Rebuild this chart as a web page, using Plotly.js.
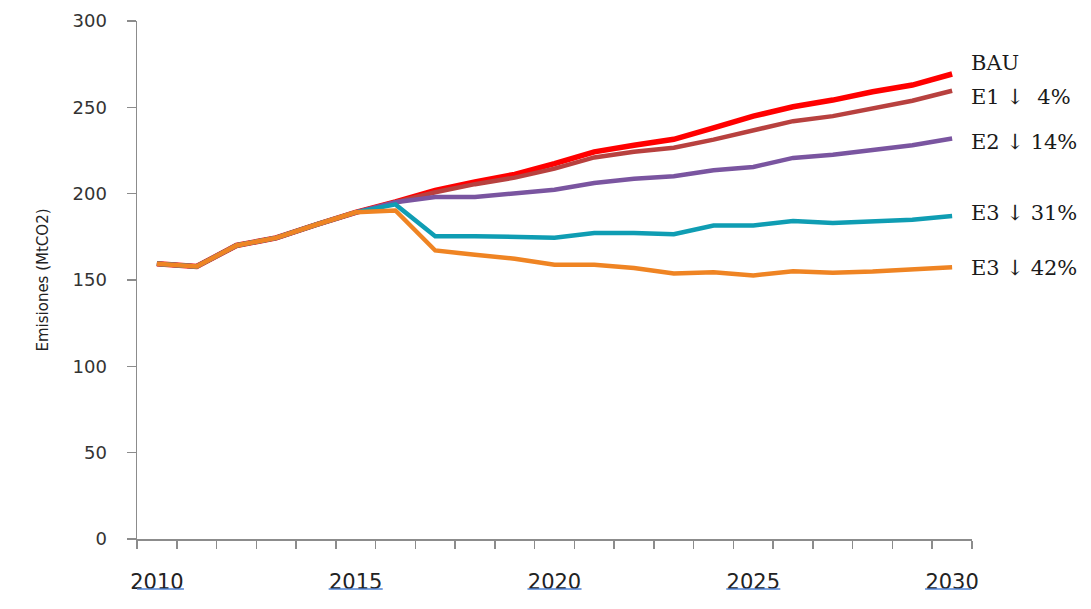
<!DOCTYPE html>
<html>
<head>
<meta charset="utf-8">
<script src="https://cdn.plot.ly/plotly-3.0.1.min.js"></script>
<style>html,body{margin:0;padding:0;background:#fff;}</style>
</head>
<body>
<div id="chart" style="width:1091px;height:609px;"></div>
<script>
const years = [2010,2011,2012,2013,2014,2015,2016,2017,2018,2019,2020,2021,2022,2023,2024,2025,2026,2027,2028,2029,2030];
const common = [159.4,157.8,170.0,174.4,182.0,189.2];
const bau = common.concat([195.2,201.9,206.8,211.2,217.4,224.2,228.0,231.5,238.1,244.9,250.3,254.2,259.0,262.9,269.3]);
const e1  = common.concat([195.0,200.8,205.5,209.3,214.5,221.0,224.3,226.6,231.3,236.4,242.0,244.9,249.3,253.8,259.6]);
const e2  = common.concat([195.0,198.1,198.1,200.4,202.3,206.2,208.7,210.1,213.5,215.5,220.7,222.6,225.5,228.0,231.9]);
const e3a = common.concat([193.8,175.4,175.4,175.2,174.5,177.2,177.2,176.5,181.6,181.6,184.1,183.0,184.0,184.9,187.0]);
const e3b = common.concat([190.3,167.1,164.6,162.3,158.8,158.8,156.9,153.8,154.5,152.6,155.1,154.2,154.9,155.9,157.4]);
const seriesNames = ['BAU','E1','E2','E3 31%','E3 42%'];
const tickYears = [2010,2015,2020,2025,2030];
const endLabels = ['BAU','E1 \u2193\u00a0\u00a04%','E2 \u2193 14%','E3 \u2193 31%','E3 \u2193 42%'];

const colors = ['#ff0000','#b8413f','#7a55a0','#0f9db3','#ef8423'];
const widths = [5.5,4.5,4.5,4.5,4.5];
const data = [bau,e1,e2,e3a,e3b].map((ys,i)=>({
  type:'scatter', mode:'lines', x: years, y: ys, name: seriesNames[i],
  line:{color: colors[i], width: widths[i]}, hoverinfo:'skip'
}));

const plotBottom = 539, plotTop = 21, plotH = plotBottom - plotTop;
const labelPix = [63.3, 96.7, 141.7, 213.3, 268.3];
const annotations = endLabels.map((t,i)=>({
  xref:'paper', yref:'paper', x:1, xshift:-3, xanchor:'left',
  y:(plotBottom - labelPix[i])/plotH, yanchor:'middle',
  text:t, showarrow:false,
  font:{family:'DejaVu Serif, serif', size:21, color:'#1a1a1a'}
}));
const shapes = tickYears.map(yr=>({
  type:'line', xref:'x', yref:'paper', x0:yr-0.68, x1:yr+0.68,
  y0:(plotBottom-589)/plotH, y1:(plotBottom-589)/plotH,
  line:{color:'#4f82d2', width:1.5}
}));

const layout = {
  width:1091, height:609,
  margin:{l:137, r:119, t:21, b:70},
  paper_bgcolor:'#fff', plot_bgcolor:'#fff',
  showlegend:false,
  xaxis:{
    range:[2009.5,2030.5], tickmode:'array', tickvals:tickYears, ticktext:tickYears.map(String),
    ticks:'outside', ticklen:23, tickcolor:'rgba(0,0,0,0)',
    showline:true, linecolor:'#8c8c8c', linewidth:1.5,
    showgrid:false, zeroline:false,
    minor:{tickmode:'linear', tick0:2009.5, dtick:1, ticks:'outside', ticklen:8, tickcolor:'#8c8c8c', tickwidth:1.5, showgrid:false},
    tickfont:{family:'DejaVu Sans, sans-serif', size:21, color:'#222'}
  },
  yaxis:{
    range:[0,300], dtick:50, tick0:0,
    ticks:'outside', ticklen:9, tickcolor:'#8c8c8c', tickwidth:1.5,
    showline:true, linecolor:'#8c8c8c', linewidth:1.5,
    showgrid:false, zeroline:false,
    ticklabelstandoff:16,
    tickfont:{family:'DejaVu Sans, sans-serif', size:18, color:'#333'},
    title:{text:'Emisiones (MtCO2)', standoff:20, font:{family:'DejaVu Sans, sans-serif', size:15, color:'#222'}}
  },
  annotations: annotations,
  shapes: shapes
};
Plotly.newPlot('chart', data, layout, {staticPlot:true, displayModeBar:false});
</script>
</body>
</html>
